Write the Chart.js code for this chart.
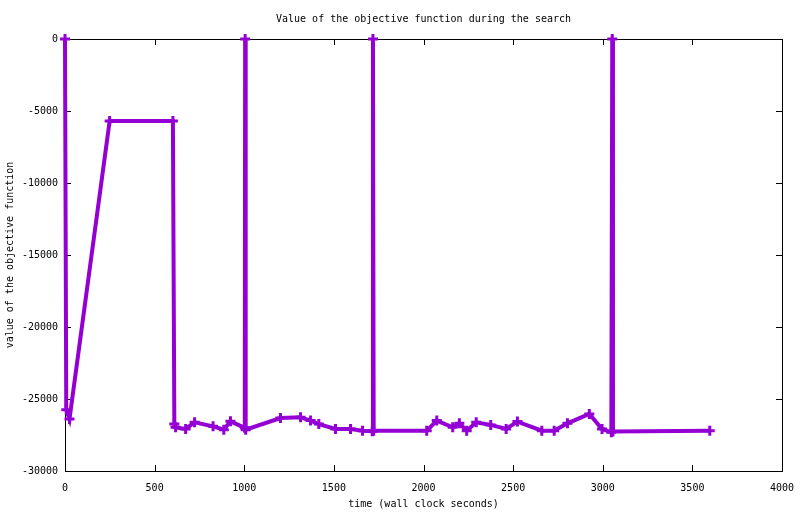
<!DOCTYPE html>
<html>
<head>
<meta charset="utf-8">
<script src="https://cdn.jsdelivr.net/npm/chart.js@4.4.1/dist/chart.umd.min.js"></script>
<style>
  html, body { margin: 0; padding: 0; background: #fff; }
  #wrap { width: 800px; height: 514px; }
</style>
</head>
<body>
<div id="wrap"><canvas id="objChart" width="800" height="514"></canvas></div>
<script>
// objective value vs wall clock time
const times = [0, 7, 25, 249, 602, 610, 617, 673, 723, 826, 886, 923,
  1003, 1005, 1008, 1202, 1314, 1370, 1416, 1509, 1593, 1660,
  1714, 1718, 1722, 2018, 2074, 2163, 2200, 2241, 2294, 2375, 2461, 2524,
  2660, 2729, 2803, 2925, 2996, 3048, 3053, 3057, 3597];
const values = [0, -25740, -26390, -5700, -5700, -26740, -26970, -27080, -26620, -26900, -27130, -26550,
  -27000, 0, -27130, -26320, -26270, -26500, -26740, -27080, -27080, -27200,
  -27240, 0, -27200, -27200, -26500, -26970, -26690, -27200, -26620, -26800, -27080, -26570,
  -27200, -27200, -26690, -26040, -27080, -27310, 0, -27250, -27200];
const xTicks = [0, 500, 1000, 1500, 2000, 2500, 3000, 3500, 4000];
const yTicks = [0, -5000, -10000, -15000, -20000, -25000, -30000];

const titleText = 'Value of the objective function during the search';
const xLabel = 'time (wall clock seconds)';
const yLabel = 'value of the objective function';

const MONO = '"DejaVu Sans Mono", "Liberation Mono", monospace';
const purple = '#9400d3';

// gnuplot style frame: box border, inward ticks mirrored on all sides
const framePlugin = {
  id: 'frame',
  beforeDatasetsDraw(chart) {
    const { ctx, chartArea: a, scales } = chart;
    const len = 6;
    ctx.save();
    ctx.strokeStyle = '#000';
    ctx.lineWidth = 1;
    ctx.beginPath();
    xTicks.forEach(v => {
      const px = Math.round(scales.x.getPixelForValue(v)) + 0.5;
      ctx.moveTo(px, a.bottom); ctx.lineTo(px, a.bottom - len);
      ctx.moveTo(px, a.top); ctx.lineTo(px, a.top + len);
    });
    yTicks.forEach(v => {
      const py = Math.round(scales.y.getPixelForValue(v)) + 0.5;
      ctx.moveTo(a.left, py); ctx.lineTo(a.left + len, py);
      ctx.moveTo(a.right, py); ctx.lineTo(a.right - len, py);
    });
    ctx.stroke();
    ctx.strokeRect(Math.round(a.left) + 0.5, Math.round(a.top) + 0.5,
      Math.round(a.right - a.left), Math.round(a.bottom - a.top));
    ctx.restore();
  },
  afterDraw(chart) {
    const { ctx, chartArea: a } = chart;
    ctx.save();
    ctx.fillStyle = '#000';
    ctx.font = '10px ' + MONO;
    ctx.textAlign = 'center';
    ctx.textBaseline = 'middle';
    ctx.fillText(titleText, (a.left + a.right) / 2, 19);
    ctx.restore();
  }
};

new Chart(document.getElementById('objChart'), {
  type: 'line',
  data: {
    datasets: [{
      data: times.map((t, i) => ({ x: t, y: values[i] })),
      borderColor: purple,
      backgroundColor: purple,
      borderWidth: 4,
      pointStyle: 'cross',
      pointRadius: 5,
      pointBorderWidth: 3,
      pointHoverRadius: 5,
      tension: 0,
      clip: false,
    }],
  },
  options: {
    responsive: false,
    animation: false,
    events: [],
    layout: { padding: { top: 39, right: 18, left: 0, bottom: 0 } },
    plugins: { legend: { display: false }, title: { display: false }, tooltip: { enabled: false } },
    scales: {
      x: {
        type: 'linear', min: 0, max: 4000,
        afterBuildTicks: s => { s.ticks = xTicks.map(v => ({ value: v })); },
        afterFit: s => { s.height = 43; s.paddingLeft = 0; s.paddingRight = 0; },
        grid: { display: false, drawTicks: false },
        border: { display: false },
        ticks: { color: '#000', padding: 11, font: { family: MONO, size: 10 }, callback: v => String(v) },
        title: { display: true, text: xLabel, color: '#000', padding: { top: 0, bottom: 4 }, font: { family: MONO, size: 10 } },
      },
      y: {
        type: 'linear', min: -30000, max: 0,
        afterBuildTicks: s => { s.ticks = yTicks.map(v => ({ value: v })); },
        afterFit: s => { s.width = 65; s.paddingTop = 0; s.paddingBottom = 0; },
        grid: { display: false, drawTicks: false },
        border: { display: false },
        ticks: { color: '#000', padding: 7, font: { family: MONO, size: 10 }, callback: v => String(v) },
        title: { display: true, text: yLabel, color: '#000', padding: { top: 4, bottom: 0 }, font: { family: MONO, size: 10 } },
      },
    },
  },
  plugins: [framePlugin],
});
</script>
</body>
</html>
